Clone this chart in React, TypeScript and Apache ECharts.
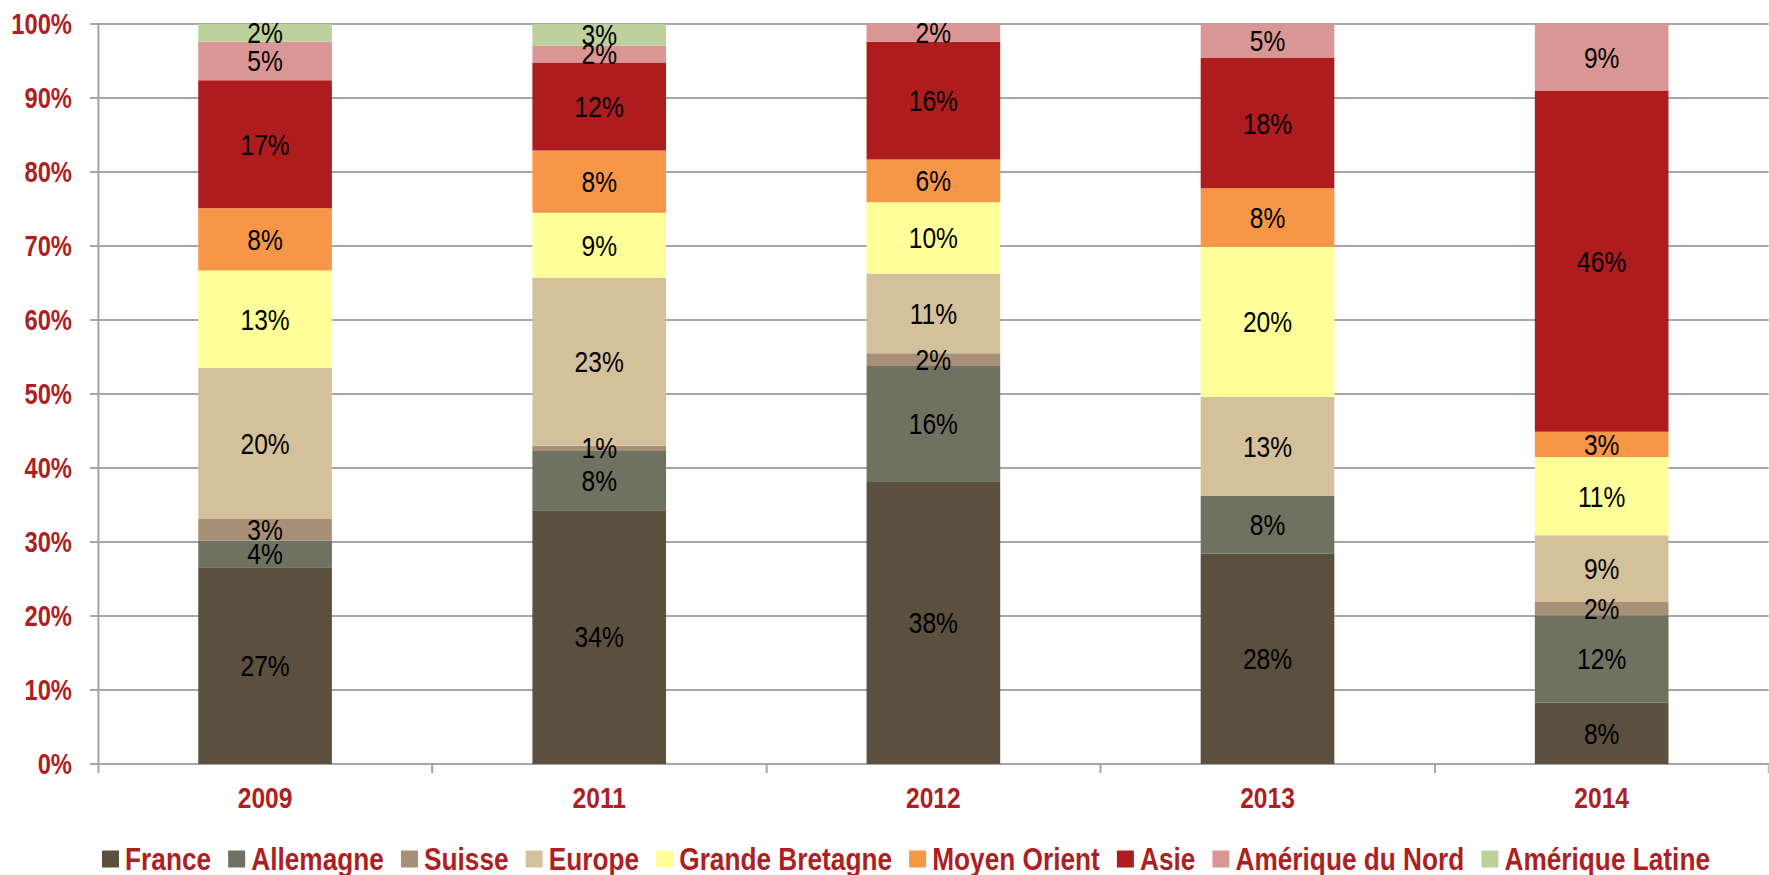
import React, { useEffect, useRef } from "react";
import * as echarts from "echarts";

const years = ["2009", "2011", "2012", "2013", "2014"];
const seriesNames = ["France", "Allemagne", "Suisse", "Europe", "Grande Bretagne", "Moyen Orient", "Asie", "Amérique du Nord", "Amérique Latine"];
const colors = ["#5b4f3e", "#707261", "#a89078", "#d5c09c", "#ffff99", "#f79646", "#af1c1e", "#da9694", "#bcd19c"];

const france = [26.6, 34.3, 38.1, 28.4, 8.3];
const allemagne = [3.6, 8.1, 15.7, 7.8, 11.8];
const suisse = [2.9, 0.6, 1.7, null, 1.8];
const europe = [20.4, 22.7, 10.8, 13.4, 9.0];
const grandeBretagne = [13.2, 8.8, 9.6, 20.3, 10.6];
const moyenOrient = [8.4, 8.4, 5.8, 7.9, 3.4];
const asie = [17.3, 11.9, 15.9, 17.6, 46.1];
const ameriqueNord = [5.2, 2.3, 2.4, 4.6, 9.0];
const ameriqueLatine = [2.4, 2.9, null, null, null];

const allData = [france, allemagne, suisse, europe, grandeBretagne, moyenOrient, asie, ameriqueNord, ameriqueLatine];

const yTicks = [0, 10, 20, 30, 40, 50, 60, 70, 80, 90, 100];

// Arial Narrow look: Liberation Sans condensed horizontally by 0.82
const SX = 0.82;
const W = 1769 / SX;
const FONT = '"Liberation Sans", Arial, sans-serif';
const RED = "#ae1f24";
const GRAY = "#a6a6a6";

export default function App() {
  const ref = useRef<HTMLDivElement>(null);
  useEffect(() => {
    document.body.style.margin = "0";
    if (!ref.current) return;
    const chart = echarts.init(ref.current, null, { renderer: "svg" });
    chart.setOption({
      animation: false,
      backgroundColor: "#ffffff",
      grid: { left: 98 / SX, top: 24, width: 1680 / SX, height: 740, containLabel: false },
      legend: {
        left: 102 / SX,
        top: 843,
        padding: 0,
        itemWidth: 17 / SX,
        itemHeight: 17,
        itemGap: 17 / SX,
        icon: "rect",
        data: seriesNames,
        textStyle: { fontFamily: FONT, fontWeight: "bold", fontSize: 32, lineHeight: 32, color: RED, padding: [0, 0, 0, 2 / SX] },
      },
      xAxis: {
        type: "category",
        data: years,
        axisLine: { show: true, lineStyle: { color: GRAY, width: 2 } },
        axisTick: { show: true, length: 9, lineStyle: { color: GRAY, width: 2 / SX } },
        axisLabel: { fontFamily: FONT, fontWeight: "bold", fontSize: 30, color: RED, margin: 19 },
      },
      yAxis: {
        type: "value",
        min: yTicks[0],
        max: yTicks[yTicks.length - 1],
        interval: 10,
        axisLine: { show: true, lineStyle: { color: GRAY, width: 2 / SX } },
        axisTick: { show: true, length: 8 / SX, lineStyle: { color: GRAY, width: 2 } },
        splitLine: { show: true, lineStyle: { color: GRAY, width: 2 } },
        axisLabel: { fontFamily: FONT, fontWeight: "bold", fontSize: 29, color: RED, margin: 26 / SX, formatter: "{value}%" },
      },
      series: seriesNames.map((name, i) => ({
        name,
        type: "bar",
        stack: "total",
        barWidth: "40%",
        data: allData[i],
        itemStyle: { color: colors[i] },
        label: {
          show: true,
          position: "inside",
          fontFamily: FONT,
          fontSize: 30,
          color: "#000000",
          formatter: (p: any) => (p.value ? Math.round(p.value) + "%" : ""),
        },
      })),
    });
    return () => chart.dispose();
  }, []);
  return (
    <div
      ref={ref}
      style={{ position: "fixed", left: 0, top: 0, width: W, height: 875, transform: `scaleX(${SX})`, transformOrigin: "0 0" }}
    />
  );
}
